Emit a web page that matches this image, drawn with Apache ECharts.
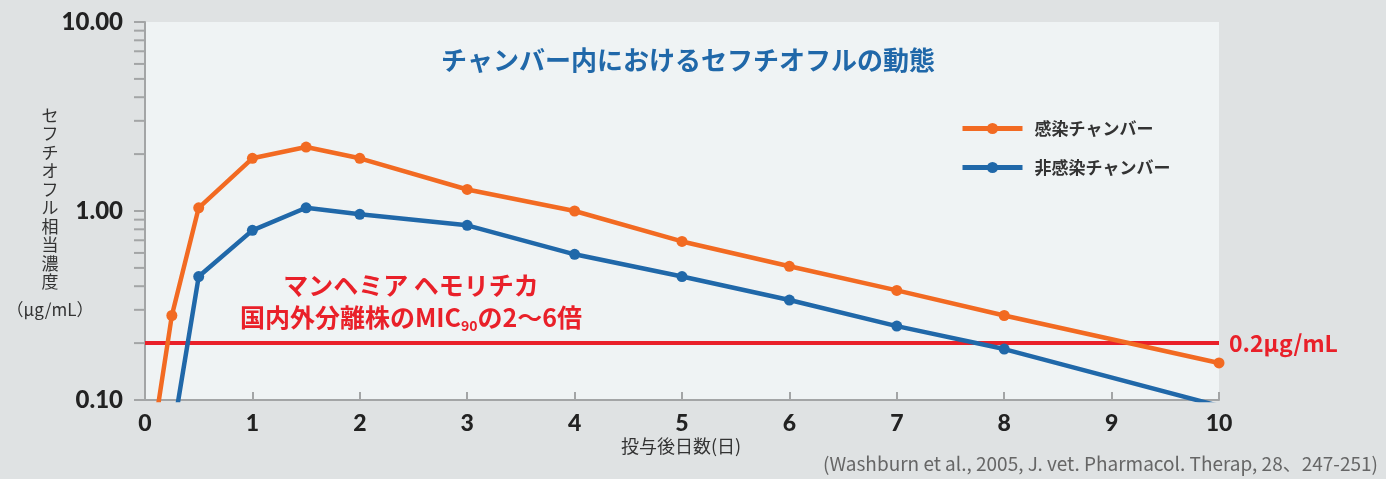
<!DOCTYPE html>
<html>
<head>
<meta charset="utf-8">
<script src="https://cdn.jsdelivr.net/npm/echarts@6/dist/echarts.min.js"></script>
<style>
html,body{margin:0;padding:0;background:#dfe2e3;}
#chart{width:1386px;height:479px;}
</style>
</head>
<body>
<div id="chart"></div>
<script>
// ---- data ----
const infectedDays = [0, 0.25, 0.5, 1, 1.5, 2, 3, 4, 5, 6, 7, 8, 10];
const infectedConc = [0.033, 0.28, 1.04, 1.9, 2.18, 1.9, 1.3, 1.0, 0.69, 0.51, 0.38, 0.28, 0.157];
const nonInfectedDays = [0.25, 0.5, 1, 1.5, 2, 3, 4, 5, 6, 7, 8, 10];
const nonInfectedConc = [0.062, 0.45, 0.79, 1.04, 0.96, 0.84, 0.59, 0.45, 0.338, 0.246, 0.186, 0.093];
const seriesNames = ['感染チャンバー', '非感染チャンバー'];
const micLevel = 0.2;
const micLabel = '0.2μg/mL';
const yMinorTicks = [0.2, 0.3, 0.4, 0.5, 0.6, 0.7, 0.8, 0.9, 2, 3, 4, 5, 6, 7, 8, 9];
const titleText = 'チャンバー内におけるセフチオフルの動態';
const yAxisName = 'セフチオフル相当濃度';
const yAxisUnit = '（μg/mL）';
const xAxisName = '投与後日数(日)';
const sourceText = '(Washburn et al., 2005, J. vet. Pharmacol. Therap, 28、247-251)';

const orange = '#f26a22';
const blue = '#2068a9';
const red = '#e92029';
const jp = '"Noto Sans CJK JP"';

const chart = echarts.init(document.getElementById('chart'));
const pair = (xs, ys) => xs.map((x, i) => [x, ys[i]]);

chart.setOption({
  backgroundColor: '#dfe2e3',
  animation: false,
  title: {
    text: titleText,
    left: 683, top: 42, textAlign: 'center',
    textStyle: {color: blue, fontSize: 26, fontWeight: 'bold', fontFamily: 'Noto Sans CJK JP'}
  },
  legend: {
    data: seriesNames,
    orient: 'vertical',
    left: 955, top: 115,
    itemWidth: 60, itemHeight: 14, itemGap: 22,
    lineStyle: {width: 5},
    textStyle: {color: '#333', fontSize: 17, fontWeight: 'bold', fontFamily: 'Noto Sans CJK JP', padding: [0, 0, 0, 7]}
  },
  grid: {
    left: 145, right: 167, top: 22, bottom: 79,
    show: true, backgroundColor: '#eff3f4', borderWidth: 0
  },
  xAxis: {
    type: 'value', min: 0, max: 10, interval: 1,
    axisLine: {lineStyle: {color: '#a3a5a6', width: 2}},
    axisTick: {inside: true, length: 8, lineStyle: {color: '#a3a5a6', width: 2}},
    axisLabel: {color: '#222', fontSize: 23, fontWeight: 900, fontFamily: 'Lato', margin: 12},
    splitLine: {show: false}
  },
  yAxis: {
    type: 'log', logBase: 10, min: 0.1, max: 10, interval: 1,
    axisLine: {show: true, lineStyle: {color: '#a3a5a6', width: 2}},
    axisTick: {show: true, length: 11, lineStyle: {color: '#a3a5a6', width: 2}},
    axisLabel: {
      color: '#222', fontSize: 24, fontWeight: 900, fontFamily: 'Lato', margin: 22,
      formatter: v => Number(v).toFixed(2)
    },
    splitLine: {show: false}
  },
  series: [
    {
      name: seriesNames[0], type: 'line', clip: true,
      data: pair(infectedDays, infectedConc),
      symbol: 'circle', symbolSize: 11, showAllSymbol: true,
      lineStyle: {color: orange, width: 4.5},
      itemStyle: {color: orange},
      z: 3,
      markLine: {
        silent: true, symbol: 'none',
        lineStyle: {color: red, width: 4, type: 'solid'},
        label: {
          position: 'end', formatter: micLabel, color: red, fontSize: 23,
          fontWeight: 'bold', fontFamily: 'Noto Sans CJK JP', distance: 10
        },
        data: [{yAxis: micLevel}],
        z: 1
      }
    },
    {
      name: seriesNames[1], type: 'line', clip: true,
      data: pair(nonInfectedDays, nonInfectedConc),
      symbol: 'circle', symbolSize: 11, showAllSymbol: true,
      lineStyle: {color: blue, width: 4.5},
      itemStyle: {color: blue},
      z: 3
    },
    {
      name: 'minorTicks', type: 'custom', silent: true,
      data: yMinorTicks.map(v => [0, v]),
      renderItem: function (params, api) {
        const p = api.coord([0, api.value(1)]);
        return {
          type: 'line',
          shape: {x1: p[0] - 11, y1: p[1], x2: p[0], y2: p[1]},
          style: {stroke: '#a3a5a6', lineWidth: 2}
        };
      }
    }
  ],
  graphic: [
    {
      type: 'text', x: 50, y: 106,
      style: {
        text: yAxisName.split('').join('\n'),
        fill: '#333', font: '17px ' + jp, align: 'center', lineHeight: 18.5
      }
    },
    {
      type: 'text', x: 50, y: 301,
      style: {
        text: yAxisUnit, fill: '#333', font: '17px ' + jp, align: 'center'
      }
    },
    {
      type: 'text', x: 681, y: 437,
      style: {
        text: xAxisName, fill: '#333', font: '18px ' + jp, align: 'center'
      }
    },
    {
      type: 'text', x: 1378, y: 454,
      style: {
        text: sourceText, fill: '#666', font: '19px ' + jp, align: 'right'
      }
    },
    {
      type: 'text', x: 411, y: 269,
      style: {
        text: 'マンヘミア ヘモリチカ\n国内外分離株のMIC{sub|90}の2～6倍',
        fill: red, font: 'bold 25px ' + jp, align: 'center', lineHeight: 32,
        rich: {
          sub: {fontSize: 14, fontWeight: 'bold', fill: red, verticalAlign: 'bottom', padding: [10, 0, 0, 0], fontFamily: 'Noto Sans CJK JP'}
        }
      }
    }
  ]
});
</script>
</body>
</html>
